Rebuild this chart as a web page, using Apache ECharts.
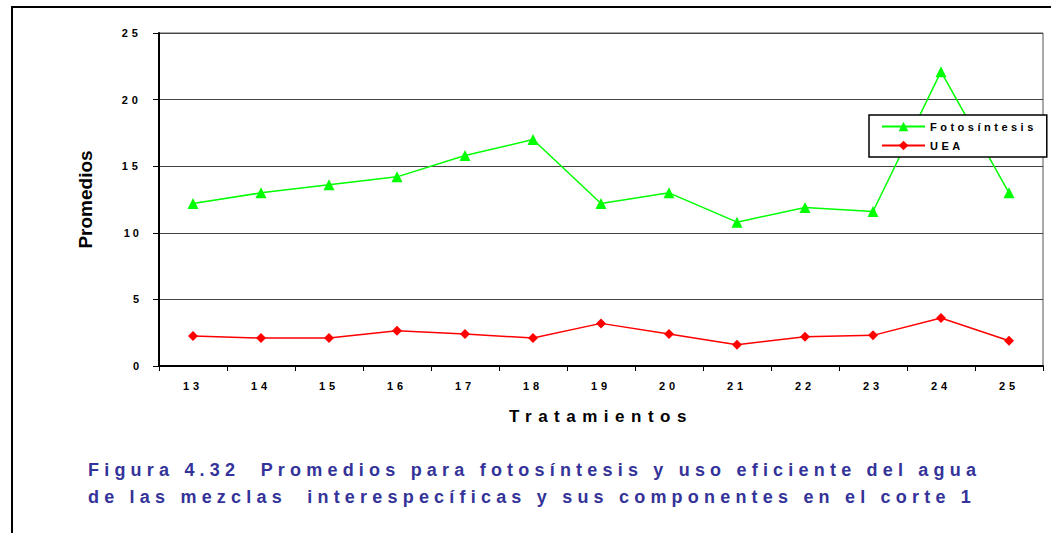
<!DOCTYPE html>
<html>
<head>
<meta charset="utf-8">
<script src="https://cdn.jsdelivr.net/npm/echarts@6/dist/echarts.min.js"></script>
<style>
  html, body { margin: 0; padding: 0; background: #fff; }
  #main { width: 1051px; height: 533px; }
</style>
</head>
<body>
<div id="main"></div>
<script>
const categories = ['13', '14', '15', '16', '17', '18', '19', '20', '21', '22', '23', '24', '25'];
const fotosintesis = [12.2, 13.0, 13.6, 14.2, 15.8, 17.0, 12.2, 13.0, 10.8, 11.9, 11.6, 22.1, 13.0];
const uea = [2.25, 2.1, 2.1, 2.65, 2.4, 2.1, 3.2, 2.4, 1.6, 2.2, 2.3, 3.6, 1.9];
const seriesNames = ['Fotosíntesis', 'UEA'];
const yMin = 0, yMax = 25, yInterval = 5;
const xName = 'Tratamientos';
const yName = 'Promedios';
const captionLines = [
  'Figura 4.32  Promedios para fotosíntesis y uso eficiente del agua',
  'de las mezclas  interespecíficas y sus componentes en el corte 1'
];

const FONT = 'Arial, "Liberation Sans", sans-serif';
const chart = echarts.init(document.getElementById('main'), null, { renderer: 'svg' });

chart.setOption({
  animation: false,
  backgroundColor: '#fff',
  grid: {
    left: 159, right: 8, top: 33, bottom: 167,
    show: true, borderColor: '#555', borderWidth: 1, backgroundColor: 'transparent'
  },
  legend: {
    orient: 'vertical',
    left: 869, top: 115,
    padding: [6, 52, 6, 12],
    itemWidth: 43, itemHeight: 12, itemGap: 8,
    backgroundColor: '#fff',
    borderColor: '#000', borderWidth: 1.5,
    textStyle: { fontFamily: FONT, fontWeight: 'bold', fontSize: 11, color: '#000' },
    data: seriesNames
  },
  xAxis: {
    type: 'category',
    data: categories,
    boundaryGap: true,
    name: xName,
    nameLocation: 'middle',
    nameGap: 42,
    nameTextStyle: { fontFamily: FONT, fontWeight: 'bold', fontSize: 17, color: '#000' },
    axisLine: { lineStyle: { color: '#000', width: 2 } },
    axisTick: { show: true, length: 5, lineStyle: { color: '#000', width: 1 } },
    axisLabel: { margin: 14, fontFamily: FONT, fontWeight: 'bold', fontSize: 11, color: '#000' },
    splitLine: { show: false }
  },
  yAxis: {
    type: 'value',
    min: yMin, max: yMax, interval: yInterval,
    name: yName,
    nameLocation: 'middle',
    nameRotate: 90,
    nameGap: 64,
    nameTextStyle: { fontFamily: FONT, fontWeight: 'bold', fontSize: 19, color: '#000' },
    axisLine: { show: true, lineStyle: { color: '#000', width: 2 } },
    axisTick: { show: true, length: 6, lineStyle: { color: '#000', width: 1 } },
    axisLabel: { margin: 17, fontFamily: FONT, fontWeight: 'bold', fontSize: 11, color: '#000' },
    splitLine: { show: true, lineStyle: { color: '#444', width: 1 } }
  },
  series: [
    {
      name: seriesNames[0], type: 'line', data: fotosintesis,
      symbol: 'triangle', symbolSize: 11,
      itemStyle: { color: '#00ff00' },
      lineStyle: { color: '#00ff00', width: 1.5 }
    },
    {
      name: seriesNames[1], type: 'line', data: uea,
      symbol: 'diamond', symbolSize: 10,
      itemStyle: { color: '#ff0000' },
      lineStyle: { color: '#ff0000', width: 1.5 }
    }
  ],
  graphic: [
    {
      type: 'rect', silent: true, z: -10,
      shape: { x: 12, y: 7, width: 1200, height: 700 },
      style: { fill: 'none', stroke: '#000', lineWidth: 2 }
    },
    {
      type: 'text', left: 88, top: 461,
      style: { text: captionLines[0], fill: '#333399', font: 'bold 18px ' + FONT }
    },
    {
      type: 'text', left: 88, top: 488,
      style: { text: captionLines[1], fill: '#333399', font: 'bold 18px ' + FONT }
    }
  ]
});

function applySpacing() {
  const svg = document.querySelector('#main svg');
  if (!svg) return;
  const texts = svg.querySelectorAll('text');
  texts.forEach(t => {
    const s = t.textContent;
    let ls = null;
    if (categories.includes(s)) ls = 4;
    else if (/^\d+$/.test(s)) ls = 3;
    else if (seriesNames.includes(s)) ls = 3.5;
    else if (s === xName) ls = 6.5;
    else if (captionLines.includes(s)) ls = 5.2;
    if (ls !== null) t.setAttribute('letter-spacing', ls + 'px');
  });
}
chart.on('finished', applySpacing);
setTimeout(applySpacing, 50);
setTimeout(applySpacing, 300);
</script>
</body>
</html>
